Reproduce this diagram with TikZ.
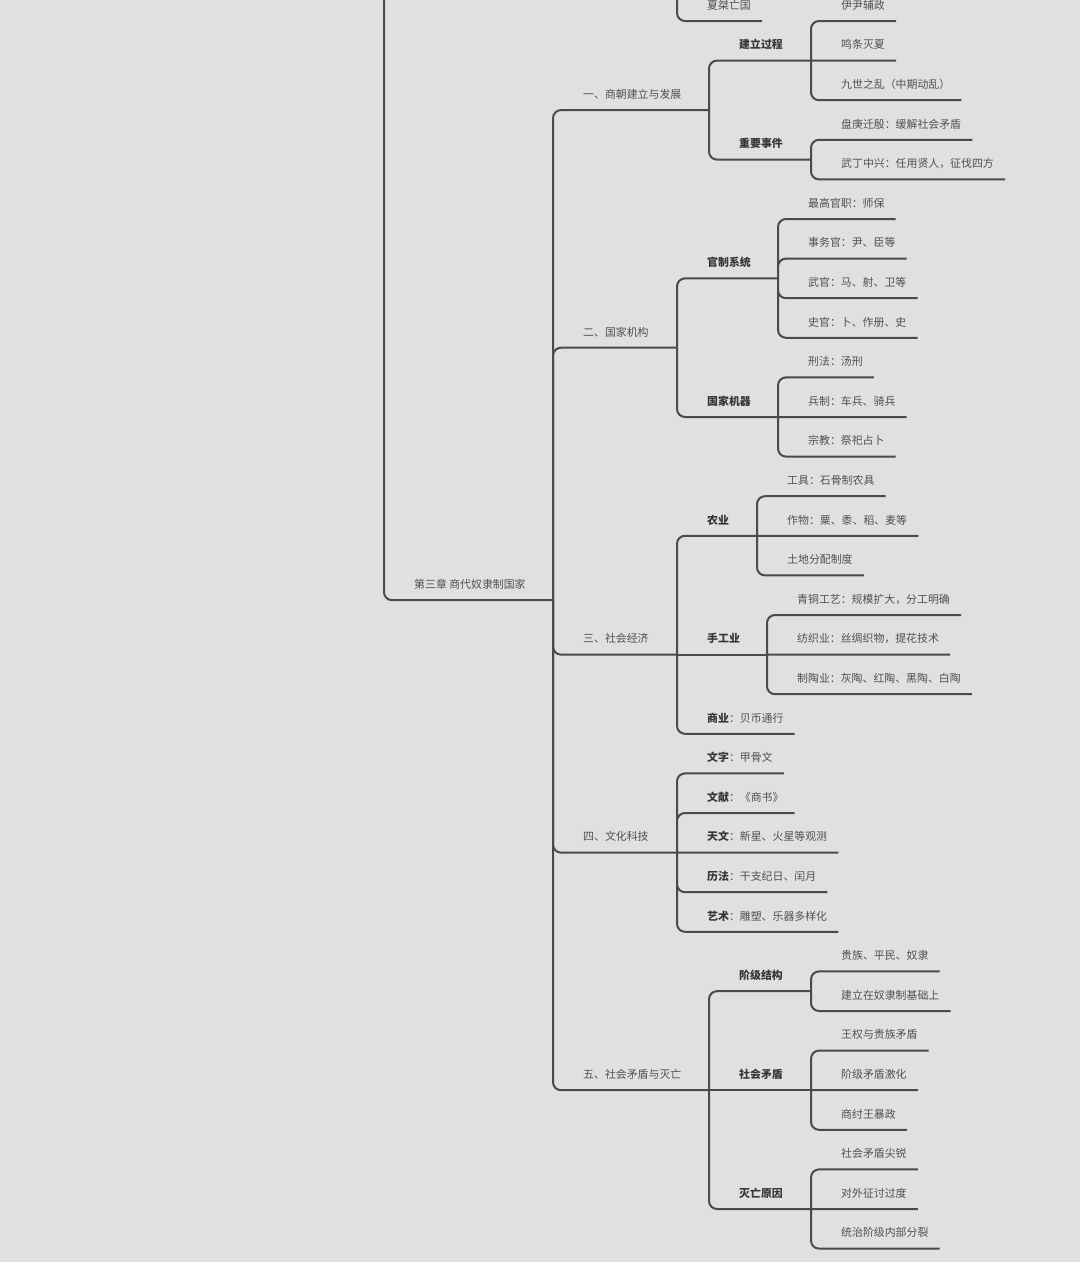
\documentclass[tikz,border=0pt]{standalone}
\usepackage{fontspec}
\setmainfont{Noto Sans CJK SC}
\usepackage{xcolor}
\definecolor{Paper}{HTML}{E0E0E0}
\definecolor{Wire}{HTML}{4A4A4A}
\definecolor{Ink}{HTML}{505050}
\definecolor{InkDark}{HTML}{363636}
\usepackage{tikz}
\usetikzlibrary{calc}
\newcommand{\kw}[1]{{\bfseries\color{InkDark}#1}}

\begin{document}
\begin{tikzpicture}[x=1pt,y=-1pt,
  every node/.style={font=\fontsize{10.9}{13}\selectfont,text=Ink},
  item/.style={anchor=south west,inner xsep=11pt,inner ysep=0pt,text height=9pt,text depth=11.5pt},
  head/.style={item,font=\fontsize{10.9}{13}\selectfont\bfseries,text=InkDark},
  link/.style={draw=Wire,line width=2pt,rounded corners=8pt}]
\fill[Paper] (0,0) rectangle (1080,1262);
\useasboundingbox (0,0) rectangle (1080,1262);

% end of the previous chapter
\coordinate (jprev) at (677,0);
\node[item] (xia) at (696,21) {夏桀亡国};
\draw[link] (jprev) |- (xia.south east);

% chapter
\coordinate (jtop) at (384,0);
\node[item] (root) at (403,600.15) {第三章 商代奴隶制国家};
\coordinate (jroot) at (553,600.15);
\draw[link] (jtop) |- (root.south east) -- (jroot);

% sections
\node[item] (s1) at (572,110.1) {一、商朝建立与发展};
\node[item] (s2) at (572,347.7) {二、国家机构};
\node[item] (s3) at (572,654.6) {三、社会经济};
\node[item] (s4) at (572,852.6) {四、文化科技};
\node[item] (s5) at (572,1090.2) {五、社会矛盾与灭亡};
\coordinate (j1) at (709,110.1);
\coordinate (j2) at (677,347.7);
\coordinate (j3) at (677,654.6);
\coordinate (j4) at (677,852.6);
\coordinate (j5) at (709,1090.2);
\draw[link] (jroot) |- (s1.south east) -- (j1);
\draw[link] (jroot) |- (s2.south east) -- (j2);
\draw[link] (jroot) |- (s3.south east) -- (j3);
\draw[link] (jroot) |- (s4.south east) -- (j4);
\draw[link] (jroot) |- (s5.south east) -- (j5);

% 一
\node[head] (a1) at (728,60.6) {建立过程};
\node[head] (a2) at (728,159.6) {重要事件};
\coordinate (ja1) at (811,60.6);
\coordinate (ja2) at (811,159.6);
\draw[link] (j1) |- (a1.south east) -- (ja1);
\draw[link] (j1) |- (a2.south east) -- (ja2);
\node[item] (a11) at (830,21) {伊尹辅政};
\node[item] (a12) at (830,60.6) {鸣条灭夏};
\node[item] (a13) at (830,100.2) {九世之乱（中期动乱）};
\draw[link] (ja1) |- (a11.south east) (ja1) -- (a12.south east) (ja1) |- (a13.south east);
\node[item] (a21) at (830,139.8) {盘庚迁殷：缓解社会矛盾};
\node[item] (a22) at (830,179.4) {武丁中兴：任用贤人，征伐四方};
\draw[link] (ja2) |- (a21.south east) (ja2) |- (a22.south east);

% 二
\node[head] (b1) at (696,278.4) {官制系统};
\node[head] (b2) at (696,417) {国家机器};
\coordinate (jb1) at (778,278.4);
\coordinate (jb2) at (778,417);
\draw[link] (j2) |- (b1.south east) -- (jb1);
\draw[link] (j2) |- (b2.south east) -- (jb2);
\node[item] (b11) at (797,219) {最高官职：师保};
\node[item] (b12) at (797,258.6) {事务官：尹、臣等};
\node[item] (b13) at (797,298.2) {武官：马、射、卫等};
\node[item] (b14) at (797,337.8) {史官：卜、作册、史};
\draw[link] (jb1) |- (b11.south east) (jb1) |- (b12.south east) (jb1) |- (b13.south east) (jb1) |- (b14.south east);
\node[item] (b21) at (797,377.4) {刑法：汤刑};
\node[item] (b22) at (797,417) {兵制：车兵、骑兵};
\node[item] (b23) at (797,456.6) {宗教：祭祀占卜};
\draw[link] (jb2) |- (b21.south east) (jb2) -- (b22.south east) (jb2) |- (b23.south east);

% 三
\node[head] (c1) at (696,535.8) {农业};
\node[head] (c2) at (696,654.6) {手工业};
\node[item] (c3) at (696,733.8) {\kw{商业}：贝币通行};
\coordinate (jc1) at (757,535.8);
\coordinate (jc2) at (767,654.6);
\draw[link] (j3) |- (c1.south east) -- (jc1);
\draw[link] (j3) -- (c2.south east) -- (jc2);
\draw[link] (j3) |- (c3.south east);
\node[item] (c11) at (776,496.2) {工具：石骨制农具};
\node[item] (c12) at (776,535.8) {作物：粟、黍、稻、麦等};
\node[item] (c13) at (776,575.4) {土地分配制度};
\draw[link] (jc1) |- (c11.south east) (jc1) -- (c12.south east) (jc1) |- (c13.south east);
\node[item] (c21) at (786,615) {青铜工艺：规模扩大，分工明确};
\node[item] (c22) at (786,654.6) {纺织业：丝绸织物，提花技术};
\node[item] (c23) at (786,694.2) {制陶业：灰陶、红陶、黑陶、白陶};
\draw[link] (jc2) |- (c21.south east) (jc2) -- (c22.south east) (jc2) |- (c23.south east);

% 四
\node[item] (d1) at (696,773.4) {\kw{文字}：甲骨文};
\node[item] (d2) at (696,813) {\kw{文献}：《商书》};
\node[item] (d3) at (696,852.6) {\kw{天文}：新星、火星等观测};
\node[item] (d4) at (696,892.2) {\kw{历法}：干支纪日、闰月};
\node[item] (d5) at (696,931.8) {\kw{艺术}：雕塑、乐器多样化};
\draw[link] (j4) |- (d1.south east) (j4) |- (d2.south east) (j4) -- (d3.south east) (j4) |- (d4.south east) (j4) |- (d5.south east);

% 五
\node[head] (e1) at (728,991.2) {阶级结构};
\node[head] (e2) at (728,1090.2) {社会矛盾};
\node[head] (e3) at (728,1209) {灭亡原因};
\coordinate (je1) at (811,991.2);
\coordinate (je2) at (811,1090.2);
\coordinate (je3) at (811,1209);
\draw[link] (j5) |- (e1.south east) -- (je1);
\draw[link] (j5) -- (e2.south east) -- (je2);
\draw[link] (j5) |- (e3.south east) -- (je3);
\node[item] (e11) at (830,971.4) {贵族、平民、奴隶};
\node[item] (e12) at (830,1011) {建立在奴隶制基础上};
\draw[link] (je1) |- (e11.south east) (je1) |- (e12.south east);
\node[item] (e21) at (830,1050.6) {王权与贵族矛盾};
\node[item] (e22) at (830,1090.2) {阶级矛盾激化};
\node[item] (e23) at (830,1129.8) {商纣王暴政};
\draw[link] (je2) |- (e21.south east) (je2) -- (e22.south east) (je2) |- (e23.south east);
\node[item] (e31) at (830,1169.4) {社会矛盾尖锐};
\node[item] (e32) at (830,1209) {对外征讨过度};
\node[item] (e33) at (830,1248.6) {统治阶级内部分裂};
\draw[link] (je3) |- (e31.south east) (je3) -- (e32.south east) (je3) |- (e33.south east);
\end{tikzpicture}
\end{document}
